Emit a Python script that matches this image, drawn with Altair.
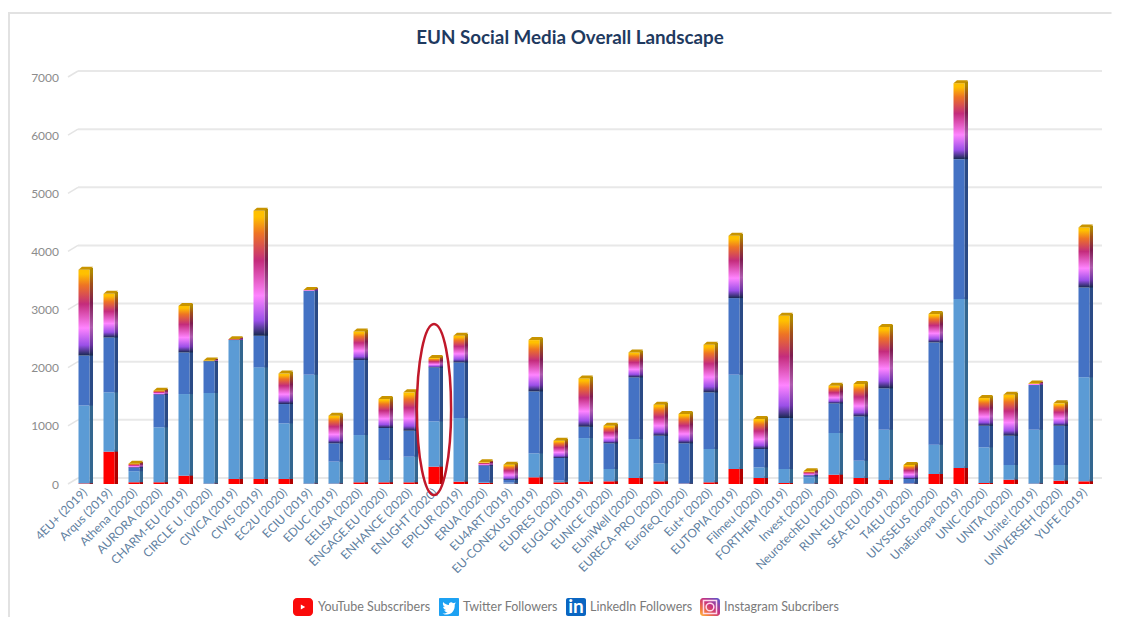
import altair as alt
import pandas as pd

TITLE = "EUN Social Media Overall Landscape"
names = ["4EU+ (2019)", "Arqus (2019)", "Athena (2020)", "AURORA (2020)", "CHARM-EU (2019)", "CIRCLE U. (2020)",
         "CIVICA (2019)", "CIVIS (2019)", "EC2U (2020)", "ECIU (2019)", "EDUC (2019)", "EELISA (2020)",
         "ENGAGE.EU (2020)", "ENHANCE (2020)", "ENLIGHT (2020)", "EPICUR (2019)", "ERUA (2020)", "EU4ART (2019)",
         "EU-CONEXUS (2019)", "EUDRES (2020)", "EUGLOH (2019)", "EUNICE (2020)", "EUniWell (2020)",
         "EURECA-PRO (2020)", "EuroTeQ (2020)", "Eut+ (2020)", "EUTOPIA (2019)", "Filmeu (2020)", "FORTHEM (2019)",
         "Invest (2020)", "NeurotechEU (2020)", "RUN-EU (2020)", "SEA-EU (2019)", "T4EU (2020)", "ULYSSEUS (2020)",
         "UnaEuropa (2019)", "UNIC (2020)", "UNITA (2020)", "Unite! (2019)", "UNIVERSEH (2020)", "YUFE (2019)"]
youtube = [10, 556, 30, 30, 143, 5, 86, 86, 86, 5, 5, 29, 29, 29, 298, 40, 20, 5, 115, 29, 40, 46, 103, 46, 5, 29,
           258, 103, 17, 5, 160, 103, 69, 5, 172, 275, 17, 74, 5, 57, 46]
twitter = [1340, 1020, 190, 945, 1404, 1560, 2390, 1920, 957, 1875, 380, 813, 384, 441, 779, 1094, 15, 20, 412, 30,
           750, 212, 670, 309, 5, 573, 1622, 183, 241, 110, 717, 298, 865, 5, 504, 2905, 613, 253, 929, 270, 1788]
linkedin = [860, 944, 60, 560, 716, 545, 0, 545, 332, 1443, 315, 1290, 550, 447, 928, 957, 280, 45, 1066, 388, 195,
            442, 1061, 476, 690, 974, 1317, 316, 877, 28, 510, 762, 711, 76, 1759, 2407, 373, 504, 768, 676, 1546]
instagram = [1475, 750, 70, 70, 800, 15, 15, 2150, 525, 12, 475, 492, 498, 659, 161, 459, 57, 262, 882, 298, 831,
             303, 429, 533, 503, 819, 1072, 515, 1759, 75, 303, 556, 1055, 241, 487, 1306, 475, 705, 28, 384, 1032]
ticks = [0, 1000, 2000, 3000, 4000, 5000, 6000, 7000]
highlight = ["ENLIGHT (2020)"]
highlight_mid = [1281]
legend_labels = ["YouTube Subscribers", "Twitter Followers", "LinkedIn Followers", "Instagram Subcribers"]

# layout
W, H = 1025, 407
PL, PT = 63.5, 69
TOTAL_H = 609

rows = []
for i, n in enumerate(names):
    a = youtube[i]; b = a + twitter[i]; c = b + linkedin[i]; d = c + instagram[i]
    rows.append(dict(name=n, s0=0, s1=a, s2=b, s3=c, s4=d))
df = pd.DataFrame(rows)

x = alt.X("name:N", sort=names, scale=alt.Scale(paddingInner=0, paddingOuter=0),
          axis=alt.Axis(title=None, labelAngle=-45, labelFont="Lato", labelFontSize=12, labelColor="#5f7f9f",
                        labelPadding=6, labelOffset=1, domain=False, ticks=False, labelOverlap=False,
                        labelAlign="right", labelBaseline="middle", labelBound=False, labelFlush=False))
yscale = alt.Scale(domain=[0, 7000], nice=False)


def yy(f):
    return alt.Y(f"{f}:Q", scale=yscale,
                 axis=alt.Axis(title=None, values=ticks, format="d", grid=False, domain=False, ticks=False,
                               labelFont="Lato", labelFontSize=12, labelColor="#8c8c8c", labelPadding=13))


def ig_grad(colors):
    offs = [0, 0.12, 0.32, 0.6, 0.82, 0.95]
    return alt.Gradient(gradient="linear", x1=0, x2=0, y1=1, y2=0,
                        stops=[alt.GradientStop(offset=o, color=c) for o, c in zip(offs, colors)])


FRONT = ig_grad(["#16294f", "#9a4fe8", "#ff84ff", "#c42c7c", "#ee7424", "#ffc000"])
SIDE = ig_grad(["#14284a", "#6a33a0", "#b05cb0", "#7e1c50", "#a05018", "#b08800"])

front_cols = ["#ff0000", "#5b9bd5", "#4472c4", FRONT]
side_cols = ["#b00000", "#33668f", "#2a4a85", SIDE]
layers = []

# gridlines (back wall) and their short diagonal links to the axis labels
gdf = pd.DataFrame({"v": ticks, "v2": [t + 103 for t in ticks]})
layers.append(alt.Chart(gdf).mark_rule(color="#e8e8e8", strokeWidth=2, yOffset=-6).encode(
    x=alt.value(6.5), x2=alt.value(1030.5), y=yy("v")))
layers.append(alt.Chart(gdf).mark_rule(color="#e4e4e4", strokeWidth=1.5).encode(
    x=alt.value(-3.5), x2=alt.value(6.5), y=yy("v"), y2="v2:Q"))

# picture frame
one = pd.DataFrame({"a": [0]})
layers.append(alt.Chart(one).mark_rule(color="#e2e2e2", strokeWidth=2).encode(
    x=alt.value(-PL), x2=alt.value(W + 15), y=alt.value(-64)))
layers.append(alt.Chart(one).mark_rule(color="#e2e2e2", strokeWidth=2).encode(
    x=alt.value(-PL + 1), y=alt.value(-64), y2=alt.value(TOTAL_H - PT)))

# side faces then front faces
for i in range(4):
    lo, hi = f"s{i}", f"s{i+1}"
    layers.append(alt.Chart(df).mark_bar(size=3.5, xOffset=7.25, yOffset=-2, color=side_cols[i]).encode(
        x=x, y=yy(hi), y2=f"{lo}:Q"))
for i in range(4):
    lo, hi = f"s{i}", f"s{i+1}"
    layers.append(alt.Chart(df).mark_bar(size=11, color=front_cols[i]).encode(
        x=x, y=yy(hi), y2=f"{lo}:Q"))

# top cap of each column
CAP = "M-0.55,0 L0.55,0 L0.9,-0.3 L-0.2,-0.3 Z"
layers.append(alt.Chart(df).mark_point(shape=CAP, size=400, filled=True, opacity=1, color="#c89400",
                                       strokeWidth=0).encode(x=x, y=yy("s4")))

# highlight oval
k = 0.5523
rx = 0.2
OVAL = (f"M0,-1 C{rx*k},-1 {rx},{-k} {rx},0 C{rx},{k} {rx*k},1 0,1 "
        f"C{-rx*k},1 {-rx},{k} {-rx},0 C{-rx},{-k} {-rx*k},-1 0,-1 Z")
odf = pd.DataFrame({"name": highlight, "m": highlight_mid})
layers.append(alt.Chart(odf).mark_point(shape=OVAL, size=171 ** 2, filled=False, opacity=1, stroke="#c0182a",
                                        strokeWidth=2.5).encode(x=x, y=yy("m")))

# legend
ICON_X = [293, 439, 566, 700]
TEXT_X = [318, 463, 590, 724]
px = lambda v: v - 8 - PL
ly = 607 - 8 - PT


def rect(x0, fill, radius=3):
    return alt.Chart(one).mark_rect(color=fill, cornerRadius=radius).encode(
        x=alt.value(px(x0)), x2=alt.value(px(x0 + 20)), y=alt.value(ly - 9), y2=alt.value(ly + 9))


INSTA = alt.Gradient(gradient="linear", x1=1, y1=0, x2=0, y2=1, stops=[
    alt.GradientStop(offset=0, color="#4f5bd5"), alt.GradientStop(offset=0.45, color="#c8307f"),
    alt.GradientStop(offset=0.8, color="#f5813a"), alt.GradientStop(offset=1, color="#fdc04d")])
BIRD = ("M1,-0.72 C0.85,-0.62 0.75,-0.6 0.62,-0.58 C0.4,-0.85 -0.1,-0.7 0,-0.3 C-0.35,-0.3 -0.7,-0.5 -0.9,-0.75 "
        "C-1,-0.45 -0.9,-0.15 -0.65,0 C-0.75,0 -0.85,-0.03 -0.92,-0.08 C-0.9,0.2 -0.7,0.4 -0.45,0.45 "
        "C-0.55,0.48 -0.65,0.5 -0.75,0.48 C-0.65,0.68 -0.45,0.8 -0.2,0.8 C-0.45,0.98 -0.7,1 -1,0.98 "
        "C0,1.5 0.95,0.85 0.88,-0.38 C0.95,-0.45 1,-0.6 1,-0.72 Z")
layers += [rect(ICON_X[0], "#fa0a0a", 4), rect(ICON_X[1], "#1da1f2", 1), rect(ICON_X[2], "#0a66c2", 2),
           rect(ICON_X[3], INSTA, 3)]
layers.append(alt.Chart(one).mark_point(shape="triangle-right", size=26, filled=True, opacity=1, color="white",
                                        strokeWidth=0).encode(x=alt.value(px(ICON_X[0] + 10)), y=alt.value(ly)))
layers.append(alt.Chart(one).mark_point(shape=BIRD, size=170, filled=True, opacity=1, color="white",
                                        strokeWidth=0).encode(x=alt.value(px(ICON_X[1] + 10)), y=alt.value(ly)))
layers.append(alt.Chart(one).mark_text(text="in", font="Lato", fontWeight="bold", fontSize=19, color="white",
                                       align="center", baseline="middle").encode(
    x=alt.value(px(ICON_X[2] + 10)), y=alt.value(ly)))
layers.append(alt.Chart(one).mark_point(shape="circle", size=60, filled=False, opacity=1, color="#ffd9ec",
                                        strokeWidth=1.5).encode(x=alt.value(px(ICON_X[3] + 10)), y=alt.value(ly)))
layers.append(alt.Chart(one).mark_point(shape="square", size=170, filled=False, opacity=1, color="#ffd9ec",
                                        strokeWidth=1.5).encode(x=alt.value(px(ICON_X[3] + 10)), y=alt.value(ly)))
for lab, tx in zip(legend_labels, TEXT_X):
    layers.append(alt.Chart(one).mark_text(text=lab, font="Lato", fontSize=12.5, color="#7a7a7a", align="left",
                                           baseline="middle").encode(x=alt.value(px(tx)), y=alt.value(ly)))

chart = alt.layer(*layers).properties(
    width=W, height=H,
    autosize=alt.AutoSizeParams(type="none"),
    padding={"left": PL, "top": PT, "right": 1105 - PL - W, "bottom": TOTAL_H - PT - H},
    title=alt.TitleParams(TITLE, font="Lato", fontSize=18.8, fontWeight="bold", color="#1f3a5f", anchor="middle",
                          offset=0, dy=36, dx=-14),
).resolve_scale(x="shared", y="shared").configure_view(stroke=None)

chart.save("out.html", embed_options={"renderer": "svg", "actions": False})
